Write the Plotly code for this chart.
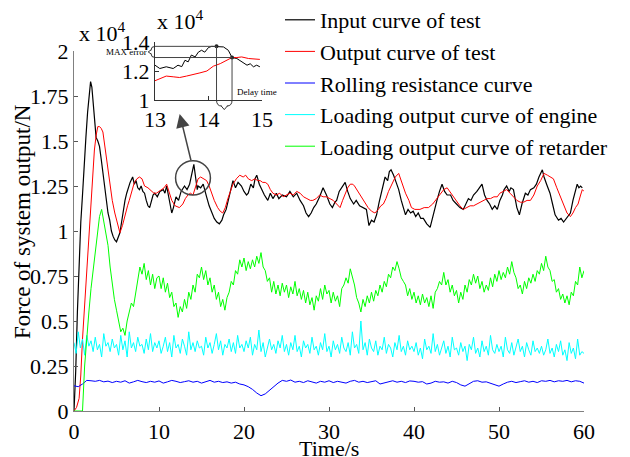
import numpy as np
import plotly.graph_objects as go

# ---------------- data (units of 10^4 N) ----------------
black_points = [(0.0,0.0),(0.2,0.22),(0.4,0.55),(0.6,0.85),(0.8,1.05),(1.0,1.2),(1.2,1.38),(1.4,1.52),(1.6,1.66),(1.8,1.78),(1.95,1.83),(2.1,1.8),(2.3,1.7),(2.5,1.56),(2.6,1.52),(2.8,1.5),(3.0,1.47),(3.2,1.4),(3.4,1.32),(3.6,1.25),(3.8,1.18),(4.0,1.1),(4.2,1.06),(4.4,1.0),(4.6,0.97),(4.8,0.95),(5.0,0.94),(5.2,0.97),(5.4,0.99),(5.6,1.05),(5.8,1.12),(6.0,1.17),(6.2,1.21),(6.4,1.24),(6.6,1.27),(6.9,1.3),(7.1,1.26),(7.3,1.28),(7.5,1.24),(7.7,1.23),(7.9,1.25),(8.1,1.22),(8.3,1.21),(8.5,1.17),(8.7,1.14),(8.9,1.13),(9.1,1.17),(9.3,1.2),(9.5,1.21),(9.8,1.19),(10.1,1.22),(10.5,1.23),(10.7,1.21),(10.9,1.25),(11.1,1.2),(11.3,1.14),(11.5,1.1),(11.7,1.13),(12.0,1.19),(12.3,1.17),(12.6,1.22),(13.0,1.25),(13.3,1.23),(13.6,1.26),(13.8,1.31),(14.0,1.35),(14.1,1.37),(14.3,1.3),(14.5,1.23),(14.6,1.25),(14.9,1.24),(15.2,1.26),(15.4,1.22),(15.6,1.19),(15.9,1.14),(16.2,1.1),(16.5,1.07),(16.8,1.05),(17.1,1.04),(17.4,1.06),(17.6,1.09),(17.9,1.12),(18.2,1.18),(18.5,1.25),(18.7,1.28),(19.0,1.24),(19.3,1.27),(19.7,1.25),(20.0,1.22),(20.3,1.2),(20.5,1.21),(20.8,1.26),(21.1,1.24),(21.3,1.29),(21.5,1.31),(21.8,1.26),(22.1,1.23),(22.4,1.2),(22.8,1.17),(23.1,1.21),(23.4,1.18),(23.8,1.21),(24.1,1.18),(24.5,1.2),(25.0,1.19),(25.4,1.22),(25.8,1.19),(26.2,1.21),(26.6,1.17),(27.0,1.14),(27.3,1.1),(27.6,1.08),(27.9,1.1),(28.2,1.13),(28.5,1.15),(28.9,1.19),(29.3,1.24),(29.7,1.2),(30.1,1.15),(30.4,1.13),(30.7,1.16),(30.9,1.17),(31.2,1.22),(31.5,1.24),(31.9,1.27),(32.2,1.22),(32.5,1.18),(32.9,1.15),(33.2,1.17),(33.6,1.14),(34.0,1.13),(34.4,1.12),(34.7,1.03),(35.0,1.06),(35.3,1.05),(35.6,1.09),(35.9,1.16),(36.2,1.22),(36.6,1.3),(36.9,1.28),(37.1,1.33),(37.3,1.34),(37.6,1.31),(37.9,1.27),(38.2,1.23),(38.5,1.17),(38.8,1.12),(39.0,1.09),(39.3,1.12),(39.6,1.1),(39.9,1.11),(40.2,1.08),(40.5,1.1),(40.8,1.07),(41.1,1.07),(41.5,1.04),(41.9,1.02),(42.2,1.08),(42.5,1.13),(42.7,1.17),(43.0,1.22),(43.3,1.26),(43.6,1.22),(43.9,1.2),(44.3,1.2),(44.6,1.17),(45.0,1.15),(45.4,1.13),(45.8,1.12),(46.1,1.15),(46.4,1.18),(46.7,1.17),(47.0,1.2),(47.4,1.22),(47.7,1.24),(48.0,1.26),(48.3,1.2),(48.6,1.17),(48.9,1.15),(49.2,1.12),(49.5,1.14),(49.8,1.12),(50.1,1.17),(50.4,1.2),(50.6,1.23),(50.9,1.25),(51.2,1.22),(51.4,1.24),(51.7,1.23),(51.9,1.17),(52.1,1.13),(52.4,1.09),(52.7,1.15),(53.1,1.21),(53.4,1.2),(53.7,1.23),(54.1,1.24),(54.4,1.26),(54.7,1.3),(55.1,1.34),(55.3,1.3),(55.6,1.26),(56.0,1.21),(56.3,1.15),(56.6,1.09),(57.0,1.06),(57.3,1.07),(57.6,1.05),(57.9,1.07),(58.2,1.09),(58.4,1.1),(58.7,1.17),(59.0,1.23),(59.2,1.26),(59.4,1.24),(59.6,1.25),(59.8,1.24)]

red_points = [(0.0,0.0),(0.3,0.02),(0.6,0.07),(0.8,0.2),(1.0,0.4),(1.2,0.55),(1.4,0.7),(1.6,0.83),(1.8,0.98),(2.0,1.13),(2.2,1.3),(2.4,1.45),(2.6,1.53),(2.8,1.58),(3.0,1.58),(3.2,1.57),(3.4,1.55),(3.6,1.48),(3.8,1.4),(4.0,1.32),(4.2,1.25),(4.5,1.17),(4.8,1.1),(5.1,1.04),(5.4,0.99),(5.7,1.03),(6.0,1.09),(6.3,1.14),(6.5,1.17),(6.8,1.22),(7.1,1.27),(7.4,1.29),(7.7,1.3),(8.0,1.29),(8.3,1.25),(8.7,1.24),(9.1,1.22),(9.4,1.21),(9.7,1.21),(10.0,1.22),(10.3,1.23),(10.6,1.24),(10.9,1.26),(11.2,1.22),(11.5,1.17),(11.9,1.14),(12.4,1.13),(12.8,1.15),(13.1,1.18),(13.4,1.2),(13.7,1.21),(14.0,1.2),(14.3,1.24),(14.6,1.29),(14.9,1.3),(15.2,1.29),(15.6,1.28),(15.9,1.25),(16.2,1.21),(16.5,1.17),(16.9,1.13),(17.2,1.11),(17.5,1.1),(17.8,1.13),(18.1,1.18),(18.4,1.22),(18.7,1.26),(19.1,1.29),(19.5,1.31),(19.9,1.3),(20.2,1.31),(20.5,1.29),(20.9,1.28),(21.3,1.29),(21.6,1.28),(21.9,1.28),(22.2,1.27),(22.5,1.27),(22.8,1.26),(23.1,1.23),(23.4,1.21),(23.8,1.2),(24.2,1.21),(24.6,1.19),(25.0,1.2),(25.4,1.21),(25.8,1.2),(26.2,1.22),(26.6,1.21),(27.0,1.19),(27.4,1.18),(27.8,1.17),(28.1,1.17),(28.5,1.18),(28.9,1.2),(29.3,1.19),(29.7,1.19),(30.1,1.18),(30.5,1.17),(30.9,1.15),(31.3,1.13),(31.6,1.17),(31.9,1.21),(32.2,1.24),(32.5,1.26),(32.8,1.26),(33.0,1.25),(33.4,1.22),(33.8,1.19),(34.2,1.16),(34.6,1.13),(35.0,1.11),(35.4,1.1),(35.8,1.12),(36.1,1.14),(36.4,1.15),(36.7,1.18),(37.0,1.22),(37.4,1.26),(37.8,1.3),(38.2,1.32),(38.5,1.28),(38.8,1.24),(39.0,1.21),(39.4,1.17),(39.7,1.13),(40.1,1.12),(40.7,1.12),(41.2,1.13),(41.7,1.13),(42.2,1.15),(42.7,1.18),(43.1,1.21),(43.5,1.23),(43.9,1.24),(44.2,1.22),(44.6,1.19),(45.0,1.16),(45.4,1.14),(45.8,1.12),(46.2,1.13),(46.6,1.14),(47.0,1.14),(47.4,1.15),(47.8,1.16),(48.2,1.17),(48.6,1.18),(49.0,1.18),(49.4,1.19),(49.8,1.19),(50.1,1.21),(50.5,1.22),(50.9,1.23),(51.3,1.21),(51.7,1.19),(52.1,1.17),(52.5,1.16),(52.9,1.16),(53.3,1.17),(53.7,1.17),(54.1,1.2),(54.5,1.25),(54.9,1.28),(55.3,1.32),(55.7,1.31),(56.1,1.3),(56.4,1.29),(56.8,1.24),(57.2,1.19),(57.6,1.14),(58.0,1.1),(58.4,1.08),(58.7,1.1),(59.0,1.13),(59.3,1.15),(59.6,1.2),(59.8,1.23),(60.0,1.22)]

# rolling resistance, sampled every 0.5 s from 0 to 60 s
blue_vals = [0.14,0.135,0.15,0.17,0.168,0.165,0.17,0.162,0.166,0.158,0.165,0.16,0.168,0.155,0.162,0.17,0.163,0.158,0.165,0.16,
             0.167,0.155,0.162,0.17,0.165,0.158,0.163,0.168,0.16,0.165,0.155,0.163,0.17,0.16,0.165,0.158,0.162,0.155,0.16,0.15,
             0.145,0.135,0.12,0.10,0.085,0.095,0.115,0.14,0.155,0.17,0.165,0.172,0.16,0.165,0.158,0.168,0.16,0.155,0.165,0.16,
             0.168,0.158,0.165,0.16,0.155,0.165,0.17,0.16,0.165,0.158,0.162,0.168,0.15,0.155,0.163,0.168,0.16,0.165,0.158,0.167,
             0.165,0.16,0.163,0.15,0.155,0.165,0.16,0.162,0.155,0.165,0.158,0.145,0.138,0.15,0.165,0.168,0.16,0.162,0.155,0.148,
             0.138,0.15,0.16,0.165,0.158,0.163,0.168,0.16,0.165,0.158,0.168,0.165,0.17,0.162,0.168,0.165,0.17,0.162,0.168,0.165,
             0.155]

# engine loading output, sampled every 0.25 s from 0 to 60 s
cyan_vals = [0.38,0.32,0.44,0.35,0.40,0.31,0.42,0.36,0.39,0.33,0.41,0.34,0.37,0.30,0.43,0.36,0.38,0.33,0.40,0.35,
             0.37,0.31,0.42,0.34,0.39,0.30,0.44,0.35,0.38,0.33,0.41,0.36,0.37,0.32,0.40,0.34,0.43,0.33,0.38,0.35,
             0.39,0.32,0.36,0.41,0.33,0.38,0.30,0.42,0.35,0.37,0.32,0.40,0.36,0.31,0.44,0.34,0.38,0.33,0.39,0.35,
             0.36,0.31,0.41,0.35,0.38,0.32,0.37,0.43,0.34,0.39,0.31,0.37,0.35,0.40,0.33,0.38,0.32,0.42,0.35,0.37,
             0.33,0.39,0.35,0.41,0.31,0.37,0.34,0.45,0.33,0.38,0.30,0.36,0.40,0.34,0.37,0.32,0.39,0.35,0.42,0.33,
             0.37,0.31,0.38,0.34,0.42,0.33,0.36,0.30,0.39,0.35,0.37,0.32,0.41,0.34,0.36,0.31,0.38,0.34,0.43,0.33,
             0.36,0.30,0.39,0.34,0.37,0.32,0.41,0.35,0.33,0.38,0.31,0.44,0.35,0.37,0.32,0.50,0.34,0.38,0.31,0.40,
             0.35,0.33,0.39,0.31,0.36,0.34,0.41,0.32,0.37,0.35,0.30,0.38,0.34,0.42,0.33,0.36,0.31,0.39,0.34,0.36,
             0.33,0.38,0.31,0.35,0.29,0.40,0.34,0.36,0.32,0.43,0.33,0.37,0.31,0.35,0.39,0.32,0.36,0.30,0.41,0.34,
             0.35,0.31,0.38,0.33,0.36,0.28,0.37,0.34,0.41,0.32,0.35,0.30,0.39,0.33,0.36,0.31,0.42,0.34,0.32,0.37,
             0.33,0.36,0.30,0.41,0.34,0.32,0.38,0.31,0.35,0.40,0.33,0.36,0.30,0.38,0.34,0.31,0.39,0.33,0.35,0.32,
             0.36,0.31,0.34,0.40,0.32,0.35,0.30,0.37,0.33,0.39,0.31,0.34,0.28,0.38,0.32,0.35,0.29,0.40,0.31,0.33,
             0.32]

# retarder loading output, sampled every 0.25 s from 0 to 60 s
green_vals = [0,0,0,0,0,0.25,0.42,0.55,0.68,0.78,0.9,0.98,1.08,1.12,1.05,1.0,0.92,0.8,0.7,0.62,
              0.56,0.5,0.44,0.46,0.42,0.5,0.55,0.6,0.58,0.66,0.72,0.8,0.76,0.82,0.73,0.78,0.7,0.76,0.68,0.74,
              0.75,0.68,0.74,0.66,0.71,0.63,0.66,0.58,0.6,0.52,0.58,0.55,0.62,0.57,0.66,0.62,0.7,0.66,0.76,0.74,
              0.8,0.73,0.78,0.7,0.74,0.66,0.7,0.62,0.66,0.58,0.62,0.56,0.63,0.66,0.72,0.7,0.78,0.76,0.84,0.8,
              0.85,0.78,0.83,0.79,0.84,0.8,0.86,0.82,0.88,0.8,0.78,0.72,0.74,0.66,0.72,0.65,0.7,0.64,0.71,0.66,
              0.7,0.63,0.69,0.65,0.72,0.64,0.68,0.62,0.67,0.6,0.66,0.59,0.63,0.56,0.64,0.61,0.68,0.62,0.7,0.65,
              0.67,0.6,0.66,0.61,0.64,0.58,0.68,0.7,0.74,0.71,0.79,0.74,0.7,0.63,0.6,0.55,0.62,0.58,0.64,0.6,
              0.66,0.61,0.67,0.64,0.7,0.66,0.72,0.69,0.76,0.74,0.8,0.78,0.83,0.79,0.74,0.72,0.7,0.64,0.68,0.62,
              0.66,0.6,0.64,0.59,0.65,0.6,0.63,0.58,0.64,0.57,0.66,0.68,0.72,0.7,0.77,0.7,0.73,0.66,0.7,0.64,
              0.67,0.6,0.66,0.62,0.7,0.66,0.73,0.7,0.76,0.71,0.75,0.68,0.72,0.66,0.7,0.67,0.74,0.69,0.76,0.72,
              0.78,0.73,0.77,0.74,0.8,0.76,0.83,0.77,0.74,0.68,0.7,0.65,0.72,0.68,0.74,0.71,0.76,0.72,0.78,0.76,
              0.82,0.78,0.86,0.8,0.78,0.72,0.73,0.66,0.68,0.62,0.65,0.6,0.64,0.59,0.66,0.64,0.72,0.7,0.8,0.74,
              0.78]

# zoomed inset (13-15 s)
inset_black_points = [(13.0,1.24),(13.09,1.217),(13.21,1.229),(13.34,1.217),(13.43,1.24),(13.5,1.23),(13.56,1.274),(13.62,1.263),(13.68,1.31),(13.75,1.297),(13.81,1.33),(13.87,1.343),(13.93,1.33),(14.0,1.362),(14.06,1.37),(14.15,1.37),(14.28,1.366),(14.37,1.343),(14.44,1.293),(14.53,1.286),(14.62,1.263),(14.72,1.24),(14.78,1.25),(14.84,1.229),(14.9,1.24),(14.96,1.229)]
inset_red_points = [(13.0,1.133),(13.09,1.149),(13.21,1.165),(13.34,1.16),(13.46,1.155),(13.59,1.165),(13.71,1.178),(13.84,1.187),(13.97,1.2),(14.09,1.233),(14.22,1.251),(14.34,1.274),(14.44,1.293),(14.53,1.293),(14.62,1.297),(14.75,1.286),(14.87,1.28),(14.96,1.28)]
max_point = (14.15, 1.37)      # maximum of input curve
cross_point = (14.44, 1.293)   # output reaches same level

x_ticks = [0, 10, 20, 30, 40, 50, 60]
y_ticks = [0, 0.25, 0.5, 0.75, 1, 1.25, 1.5, 1.75, 2]
y_ticktext = ["0", "0.25", "0.5", "0.75", "1", "1.25", "1.5", "1.75", "2"]
inset_x_ticks = [13, 14, 15]
inset_y_ticks = [1, 1.2, 1.4]
inset_y_text = ["1", "1.2", "1.4"]

names = ["Input curve of test", "Output curve of test", "Rolling resistance curve",
         "Loading output curve of engine", "Loading output curve of retarder"]
colors = ["#000000", "#ff0000", "#0000ff", "#00ffff", "#00ff00"]

FONT = "Liberation Serif, Times New Roman, serif"
TICK_SIZE = 22
TEXT_SIZE = 23

# ---------------- figure ----------------
W, H = 630, 457
ML, MR, MT, MB = 74, 46, 20, 46
PW, PH = W - ML - MR, H - MT - MB
main_top = (H - MB - 51) / PH          # y=2 at 51 px
inset_dom_x = [(155 - ML) / PW, (262 - ML) / PW]
inset_dom_y = [(H - MB - 100) / PH, (H - MB - 42) / PH]

fig = go.Figure()

bt, bv = zip(*black_points)
rt, rv = zip(*red_points)
blue_t = np.linspace(0, 60, len(blue_vals))
cyan_t = np.linspace(0, 60, len(cyan_vals))
green_t = np.linspace(0, 60, len(green_vals))

fig.add_trace(go.Scatter(x=bt, y=bv, mode="lines", name=names[0], line=dict(color=colors[0], width=1.2)))
fig.add_trace(go.Scatter(x=rt, y=rv, mode="lines", name=names[1], line=dict(color=colors[1], width=1)))
fig.add_trace(go.Scatter(x=blue_t, y=blue_vals, mode="lines", name=names[2], line=dict(color=colors[2], width=1)))
fig.add_trace(go.Scatter(x=cyan_t, y=cyan_vals, mode="lines", name=names[3], line=dict(color=colors[3], width=1)))
fig.add_trace(go.Scatter(x=green_t, y=green_vals, mode="lines", name=names[4], line=dict(color=colors[4], width=1)))

ibt, ibv = zip(*inset_black_points)
irt, irv = zip(*inset_red_points)
fig.add_trace(go.Scatter(x=ibt, y=ibv, mode="lines", xaxis="x2", yaxis="y2", showlegend=False,
                         line=dict(color="#000000", width=1)))
fig.add_trace(go.Scatter(x=irt, y=irv, mode="lines", xaxis="x2", yaxis="y2", showlegend=False,
                         line=dict(color="#ff0000", width=1)))
fig.add_trace(go.Scatter(x=[max_point[0], cross_point[0]], y=[max_point[1], cross_point[1]], mode="markers",
                         xaxis="x2", yaxis="y2", showlegend=False, marker=dict(color="#222", size=4)))

axis_common = dict(showgrid=False, zeroline=False, showline=True, ticks="inside", ticklen=4,
                   tickfont=dict(family=FONT, size=TICK_SIZE, color="black"), mirror=False)

fig.update_layout(
    width=W, height=H, margin=dict(l=ML, r=MR, t=MT, b=MB, autoexpand=False),
    paper_bgcolor="white", plot_bgcolor="rgba(0,0,0,0)",
    font=dict(family=FONT, size=TEXT_SIZE, color="black"),
    xaxis=dict(range=[0, 60], domain=[0, 1], tickvals=x_ticks, linecolor="#808080", linewidth=1.2,
               tickcolor="#555", anchor="y", **axis_common),
    yaxis=dict(range=[0, 2], domain=[0, main_top], tickvals=y_ticks, ticktext=y_ticktext,
               linecolor="#808080", linewidth=1.2, tickcolor="#555", anchor="x", **axis_common),
    xaxis2=dict(range=[13, 15], domain=inset_dom_x, tickvals=inset_x_ticks, linecolor="#333",
                linewidth=1, tickcolor="#333", anchor="y2", **axis_common),
    yaxis2=dict(range=[1, 1.4], domain=inset_dom_y, tickvals=inset_y_ticks, ticktext=inset_y_text,
                linecolor="#333", linewidth=1, tickcolor="#333", anchor="x2", **axis_common),
    legend=dict(x=(280 - ML) / PW, xanchor="left", y=(H - MB + 1) / PH, yanchor="top",
                bgcolor="rgba(0,0,0,0)", font=dict(family=FONT, size=22, color="black"),
                tracegroupgap=0, itemwidth=30),
    showlegend=True,
)

def inset_to_paper(t, v):
    x0, x1 = inset_dom_x
    y0, y1 = inset_dom_y
    return x0 + (t - 13) / 2 * (x1 - x0), y0 + (v - 1) / 0.4 * (y1 - y0)

line_style = dict(color="#444", width=1)
# guide lines in the inset
fig.add_shape(type="line", xref="x2", yref="y2", x0=13, x1=max_point[0], y0=max_point[1], y1=max_point[1], line=line_style)
fig.add_shape(type="line", xref="x2", yref="y2", x0=13, x1=cross_point[0], y0=cross_point[1], y1=cross_point[1], line=line_style)
fig.add_shape(type="line", xref="x2", yref="y2", x0=max_point[0], x1=max_point[0], y0=1, y1=max_point[1], line=line_style)
fig.add_shape(type="line", xref="x2", yref="y2", x0=cross_point[0], x1=cross_point[0], y0=1, y1=cross_point[1], line=line_style)

# braces (paper coordinates derived from inset data points)
px0, py0 = inset_to_paper(max_point[0], 1)
px1, _ = inset_to_paper(cross_point[0], 1)
dy = 6 / PH
pm = (px0 + px1) / 2
fig.add_shape(type="path", xref="paper", yref="paper",
              path=f"M {px0},{py0} Q {px0},{py0-dy} {px0+0.01},{py0-dy} L {pm-0.006},{py0-dy} L {pm},{py0-dy*1.6} L {pm+0.006},{py0-dy} L {px1-0.01},{py0-dy} Q {px1},{py0-dy} {px1},{py0}",
              line=dict(color="#333", width=1))
lx, ly_top = inset_to_paper(13, max_point[1])
_, ly_bot = inset_to_paper(13, cross_point[1])
dx = 4 / PW
lm = (ly_top + ly_bot) / 2
fig.add_shape(type="path", xref="paper", yref="paper",
              path=f"M {lx},{ly_top} Q {lx-dx},{ly_top} {lx-dx},{ly_top-0.01} L {lx-dx},{lm+0.005} L {lx-dx*1.7},{lm} L {lx-dx},{lm-0.005} L {lx-dx},{ly_bot+0.01} Q {lx-dx},{ly_bot} {lx},{ly_bot}",
              line=dict(color="#333", width=1))

# circle around the zoomed region in the main plot
fig.add_shape(type="circle", xref="x", yref="y", x0=11.95, x1=16.05, y0=1.2, y1=1.39,
              line=dict(color="#444", width=1.5))

annotations = [
    dict(x=12.43, y=1.65, ax=13.8, ay=1.385, xref="x", yref="y", axref="x", ayref="y",
         text="", showarrow=True, arrowhead=2, arrowsize=1.8, arrowwidth=1.5, arrowcolor="#444"),
    dict(x=(77 - ML) / PW, y=(H - MB - 48) / PH, xref="paper", yref="paper", xanchor="left", yanchor="bottom",
         text="x 10<sup>4</sup>", showarrow=False, font=dict(family=FONT, size=TICK_SIZE, color="black")),
    dict(x=inset_dom_x[0], y=(H - MB - 36) / PH, xref="paper", yref="paper", xanchor="left", yanchor="bottom",
         text="x 10<sup>4</sup>", showarrow=False, font=dict(family=FONT, size=TICK_SIZE, color="black")),
    dict(x=13, y=(max_point[1] + cross_point[1]) / 2, xref="x2", yref="y2", xanchor="right", xshift=-6,
         text="MAX error", showarrow=False, font=dict(family=FONT, size=9, color="black")),
    dict(x=14.9, y=1.0, xref="x2", yref="y2", xanchor="center", yanchor="bottom", yshift=1,
         text="Delay time", showarrow=False, font=dict(family=FONT, size=9, color="black")),
    dict(x=(22 - ML) / PW, y=(H - MB - 222) / PH, xref="paper", yref="paper", xanchor="center", yanchor="middle",
         text="Force of system output/N", textangle=-90, showarrow=False,
         font=dict(family=FONT, size=TEXT_SIZE, color="black")),
    dict(x=0.5, y=(H - MB - 463) / PH, xref="paper", yref="paper", xanchor="center", yanchor="bottom",
         text="Time/s", showarrow=False, font=dict(family=FONT, size=22, color="black")),
]
fig.update_layout(annotations=annotations)

fig.write_html("out.html")
